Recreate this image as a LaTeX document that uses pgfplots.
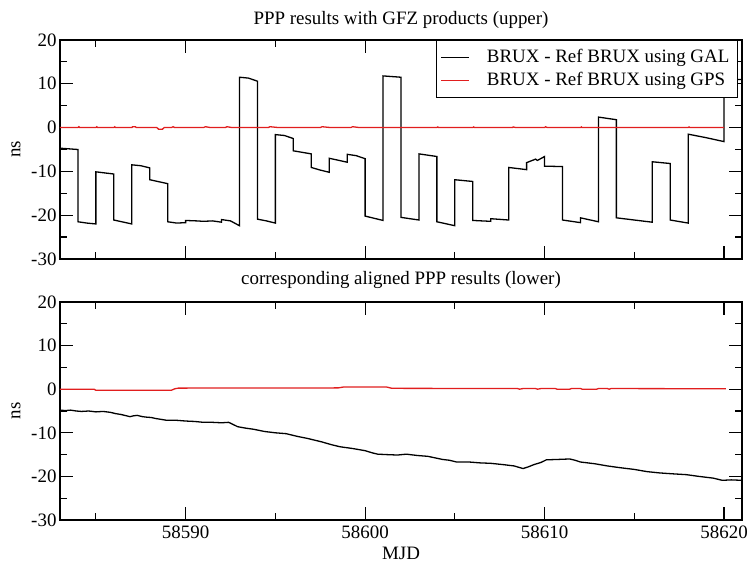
\documentclass[border=0pt]{standalone}
\usepackage{fontspec}
\setmainfont{Liberation Serif}
\usepackage{pgfplots}
\pgfplotsset{compat=1.18}
\definecolor{grred}{RGB}{225,30,30}
\pgfplotsset{
  grace/.style={
    scale only axis, width=682bp,
    xmin=58583, xmax=58621, ymin=-30, ymax=20,
    xtick={58590,58600,58610,58620},
    minor xtick={58585,58595,58605,58615},
    ytick={-30,-20,-10,0,10,20},
    minor ytick={-25,-15,-5,5,15},
    scaled x ticks=false, scaled y ticks=false,
    tick align=inside,
    major tick length=13bp, minor tick length=7bp,
    every tick/.style={black, line width=1.2bp},
    axis line style={line width=1.2bp},
    font=\fontsize{19}{23}\selectfont,
    ticklabel style={font=\fontsize{19}{23}\selectfont},
    /pgf/number format/assume math mode=true,
    /pgf/number format/1000 sep={},
    /pgf/number format/fixed,
    xticklabel style={yshift=-2bp},
    every axis y label/.style={at={(axis description cs:-0.0645,0.5)}, rotate=90, anchor=center},
    ylabel={ns},
  },
}
\begin{document}
\begin{tikzpicture}
\path[use as bounding box] (-60bp,-44bp) rectangle (690bp,520bp);
% upper panel
\begin{axis}[grace, height=219bp, at={(0bp,261bp)},
  xticklabels={},
  title={PPP results with GFZ products (upper)},
  every axis title/.style={at={(axis description cs:0.5,1)}, anchor=center, yshift=20.5bp},
  legend cell align=left,
  legend image code/.code={\draw[#1] (0bp,0bp) -- (28bp,0bp);},
  legend style={at={(rel axis cs:0.9941,1)}, anchor=north east, draw=black, line width=1.2bp, fill=white,
    font=\fontsize{19}{23}\selectfont, inner xsep=4bp, inner ysep=5.5bp, row sep=0bp, column sep=13bp,
    nodes={inner xsep=4bp, inner ysep=3bp, text height=13bp, text depth=4bp}},
]
\addplot[black, line width=1.3bp] coordinates {
(58583.0,-4.7) (58584.0,-5.0)
(58584.0,-21.5) (58584.5,-21.8) (58585.0,-22.0)
(58585.0,-10.1) (58586.0,-10.6)
(58586.0,-21.1) (58587.0,-22.0)
(58587.0,-8.5) (58587.5,-8.7) (58588.0,-9.2)
(58588.0,-11.9) (58589.0,-12.8)
(58589.0,-21.5) (58589.5,-21.8) (58590.0,-21.7)
(58590.0,-21.2) (58590.6,-21.3) (58591.0,-21.4) (58591.5,-21.3) (58592.0,-21.6)
(58592.0,-21.0) (58592.5,-21.3) (58593.0,-22.4)
(58593.0,11.5) (58593.5,11.3) (58594.0,10.6)
(58594.0,-20.9) (58594.5,-21.3) (58595.0,-21.8)
(58595.0,-1.6) (58595.5,-1.8) (58596.0,-2.5)
(58596.0,-5.3) (58597.0,-6.0)
(58597.0,-9.1) (58597.5,-9.7) (58598.0,-10.2)
(58598.0,-7.0) (58599.0,-7.9)
(58599.0,-6.1) (58599.5,-6.4) (58600.0,-7.1)
(58600.0,-20.2) (58601.0,-21.2)
(58601.0,11.8) (58602.0,11.5)
(58602.0,-20.5) (58603.0,-21.1)
(58603.0,-6.0) (58604.0,-6.6)
(58604.0,-21.5) (58605.0,-22.4)
(58605.0,-11.9) (58606.0,-12.3)
(58606.0,-21.2) (58607.0,-21.4)
(58607.0,-20.8) (58608.0,-21.1)
(58608.0,-9.1) (58609.0,-9.6)
(58609.0,-8.0) (58609.5,-7.2) (58609.6,-7.5) (58610.0,-6.6)
(58610.0,-8.8) (58611.0,-8.9)
(58611.0,-21.1) (58612.0,-21.7)
(58612.0,-20.6) (58613.0,-21.5)
(58613.0,2.4) (58614.0,1.8)
(58614.0,-20.6) (58615.0,-21.1) (58616.0,-21.6)
(58616.0,-7.8) (58617.0,-8.2)
(58617.0,-21.1) (58618.0,-21.8)
(58618.0,-1.5) (58619.0,-2.3) (58620.0,-3.2)
(58620.0,11.0) (58621.0,11.0)
};
\addlegendentry{BRUX - Ref BRUX using GAL}
\addplot[grred, line width=1.3bp] coordinates {
(58583.0,0.0) (58584.0,0.0) (58584.05,0.2) (58584.1,0.0)
(58585.0,0.0) (58585.05,0.2) (58585.1,0.0)
(58586.0,0.0) (58586.05,0.2) (58586.1,0.0)
(58587.0,0.0) (58587.05,0.2) (58587.2,0.2) (58587.25,0.0)
(58588.4,0.0) (58588.5,-0.4) (58588.7,-0.4) (58588.8,0.0)
(58589.2,0.0) (58589.3,0.2) (58589.4,0.0)
(58591.0,0.0) (58591.1,0.2) (58591.4,0.0)
(58592.2,0.0) (58592.3,0.2) (58592.6,0.0)
(58594.6,0.0) (58594.7,0.2) (58595.2,0.0)
(58597.5,0.0) (58597.6,0.2) (58598.1,0.0)
(58599.2,0.0) (58599.3,0.2) (58599.7,0.0)
(58604.0,0.0) (58604.05,0.15) (58604.1,0.0)
(58606.0,0.0) (58606.05,0.15) (58606.1,0.0)
(58608.2,0.0) (58608.25,0.15) (58608.4,0.0)
(58610.0,0.0) (58610.05,0.2) (58610.15,0.0)
(58612.0,0.0) (58612.05,0.15) (58612.1,0.0)
(58618.0,0.0) (58618.05,0.15) (58618.1,0.0)
(58620.0,0.0)
};
\addlegendentry{BRUX - Ref BRUX using GPS}
\end{axis}
% lower panel
\begin{axis}[grace, height=218bp, at={(0bp,0bp)},
  title={corresponding aligned PPP results (lower)},
  every axis title/.style={at={(axis description cs:0.5,1)}, anchor=center, yshift=22.5bp},
  xlabel={MJD},
  every axis x label/.style={at={(axis description cs:0.5,0)}, anchor=north, yshift=-24bp},
]
\addplot[black, line width=1.3bp] coordinates {
(58583.0,-4.8) (58583.3,-4.9) (58583.6,-4.8) (58583.9,-5.0) (58584.2,-5.1)
(58584.6,-5.0) (58585.0,-5.2) (58585.4,-5.1) (58585.8,-5.3) (58586.1,-5.6)
(58586.4,-5.8) (58586.9,-6.3) (58587.1,-6.1) (58587.3,-6.0) (58587.6,-6.3)
(58587.8,-6.4) (58588.1,-6.5) (58588.3,-6.7) (58588.6,-6.9) (58588.9,-7.1)
(58589.4,-7.1) (58590.0,-7.3) (58590.5,-7.4) (58591.0,-7.6) (58591.5,-7.6)
(58592.0,-7.7) (58592.4,-7.6) (58592.7,-8.2) (58592.9,-8.6) (58593.3,-8.9)
(58593.8,-9.2) (58594.4,-9.7) (58595.0,-10.0) (58595.6,-10.2) (58596.2,-10.8)
(58596.8,-11.3) (58597.2,-11.7) (58597.6,-12.1) (58598.1,-12.7) (58598.6,-13.2)
(58599.3,-13.6) (58600.0,-14.1) (58600.4,-14.6) (58600.7,-14.9) (58601.2,-15.0)
(58601.8,-15.1) (58602.3,-14.9) (58602.9,-15.2) (58603.5,-15.4) (58604.3,-16.1)
(58604.7,-16.3) (58605.1,-16.7) (58605.8,-16.7) (58606.4,-16.9) (58607.0,-17.0)
(58607.7,-17.3) (58608.3,-17.6) (58608.8,-18.2) (58609.1,-17.8) (58609.4,-17.3)
(58609.8,-16.8) (58610.1,-16.2) (58610.8,-16.1) (58611.4,-16.0) (58611.7,-16.3)
(58612.0,-16.7) (58612.8,-17.1) (58613.5,-17.6) (58614.2,-18.0) (58615.0,-18.4)
(58615.7,-18.9) (58616.4,-19.2) (58617.1,-19.4) (58617.9,-19.6) (58618.6,-20.0)
(58619.4,-20.4) (58619.9,-20.9) (58620.4,-20.8) (58621.0,-20.9)
};
\addplot[grred, line width=1.3bp] coordinates {
(58583.0,0.0) (58584.9,0.0) (58585.0,-0.25) (58589.2,-0.25) (58589.4,0.1)
(58589.6,0.25) (58598.5,0.3) (58598.8,0.5) (58601.2,0.5) (58601.5,0.2)
(58608.5,0.15) (58608.6,0.0) (58608.8,0.15) (58609.5,0.15) (58609.6,0.0)
(58609.8,0.15) (58610.6,0.15) (58610.7,0.0) (58611.4,0.0) (58611.5,0.15)
(58612.0,0.15) (58612.1,0.0) (58612.9,0.0) (58613.0,0.15) (58613.5,0.15)
(58613.6,0.0) (58613.7,0.15) (58620.1,0.1)
};
\end{axis}
\end{tikzpicture}
\end{document}
